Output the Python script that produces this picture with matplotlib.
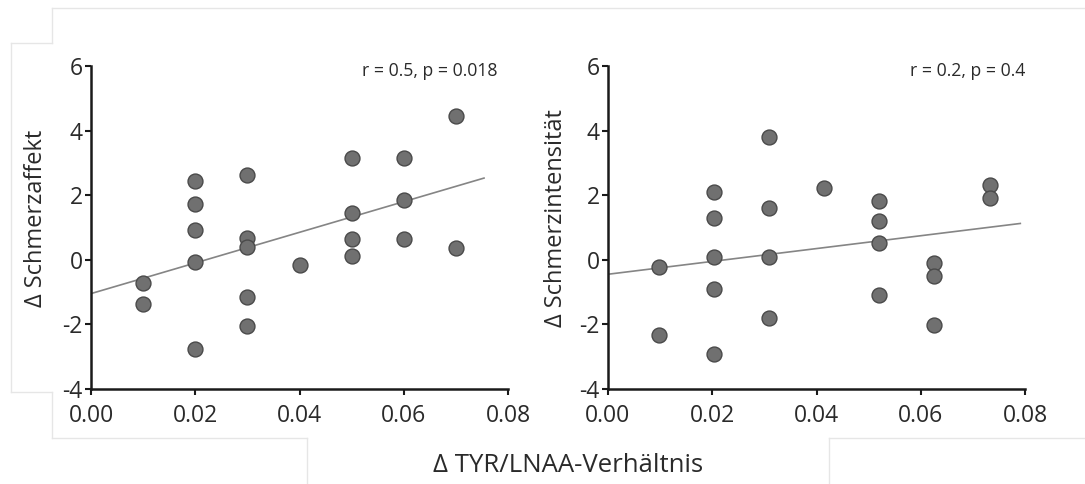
import numpy as np
import matplotlib.pyplot as plt
from matplotlib.lines import Line2D

plt.rcParams['font.family'] = ['Open Sans', 'DejaVu Sans']
plt.rcParams['axes.unicode_minus'] = False

# Daten links: Schmerzaffekt
x_affekt = [0.01, 0.01,
            0.02, 0.02, 0.02, 0.02, 0.02,
            0.03, 0.03, 0.03, 0.03, 0.03,
            0.04,
            0.05, 0.05, 0.05, 0.05,
            0.06, 0.06, 0.06,
            0.07, 0.07]
y_affekt = [-0.72, -1.36,
            2.44, 1.74, 0.93, -0.07, -2.76,
            2.63, 0.66, 0.41, -1.15, -2.06,
            -0.17,
            3.16, 1.44, 0.65, 0.13,
            3.16, 1.85, 0.64,
            4.45, 0.35]

# Daten rechts: Schmerzintensitaet
x_intens = [0.0098, 0.0098,
            0.0203, 0.0203, 0.0203, 0.0203, 0.0203,
            0.0309, 0.0309, 0.0309, 0.0309,
            0.0414,
            0.052, 0.052, 0.052, 0.052,
            0.0626, 0.0626, 0.0626,
            0.0732, 0.0732]
y_intens = [-0.21, -2.32,
            2.10, 1.30, 0.09, -0.91, -2.93,
            3.80, 1.61, 0.10, -1.81,
            2.21,
            1.81, 1.20, 0.51, -1.10,
            -0.10, -0.49, -2.01,
            2.31, 1.91]

panels = [
    (x_affekt, y_affekt, 'Δ Schmerzaffekt', 'r = 0.5, p = 0.018', 0.0754),
    (x_intens, y_intens, 'Δ Schmerzintensität', 'r = 0.2, p = 0.4', 0.0791),
]
xticks = [0.00, 0.02, 0.04, 0.06, 0.08]
yticks = [-4, -2, 0, 2, 4, 6]

fig = plt.figure(figsize=(10.85, 4.84), dpi=100)

# blasse Rahmenlinien aus dem Original-Screenshot
grau = '#e6e6e6'
for xs, ys in [([52, 1085], [8, 8]), ([52, 52], [8, 43]), ([11, 52], [43, 43]),
               ([11, 11], [43, 392]), ([11, 52], [392, 392]), ([52, 52], [392, 438]),
               ([52, 307], [438, 438]), ([307, 307], [438, 484]),
               ([829, 1085], [438, 438]), ([829, 829], [438, 484])]:
    fig.add_artist(Line2D([v / 1085 for v in xs], [1 - v / 484 for v in ys],
                          color=grau, lw=1))

lefts = [91 / 1085, 608 / 1085]
stat_x = [0.974, 1.0]
label_x = [-0.103, -0.096]
for (xv, yv, ylabel, stat, xend), left, sx, lx in zip(panels, lefts, stat_x, label_x):
    ax = fig.add_axes([left, 1 - 389 / 484, 417 / 1085, 323 / 484])
    ax.scatter(xv, yv, s=115, color='#707070', edgecolor='#4a4a4a',
               linewidth=1.0, zorder=3)
    slope, intercept = np.polyfit(xv, yv, 1)
    xl = np.array([0, xend])
    ax.plot(xl, intercept + slope * xl, color='#858585', lw=1.2, zorder=2)

    ax.set_xlim(0, 0.08)
    ax.set_ylim(-4, 6)
    ax.set_xticks(xticks)
    ax.set_xticklabels(['%.2f' % t for t in xticks])
    ax.set_yticks(yticks)
    ax.set_yticklabels([str(t) for t in yticks])
    for s in ['top', 'right']:
        ax.spines[s].set_visible(False)
    for s in ['left', 'bottom']:
        ax.spines[s].set_linewidth(1.8)
        ax.spines[s].set_color('#1a1a1a')
    ax.tick_params(direction='out', length=4, width=1.5, color='#1a1a1a',
                   labelsize=16.5, labelcolor='#2a2a2a', pad=2)
    ax.tick_params(axis='x', pad=7)
    ax.set_ylabel(ylabel, fontsize=17, color='#2a2a2a')
    ax.yaxis.set_label_coords(lx, 0.529)
    ax.text(sx, 0.985, stat, transform=ax.transAxes, ha='right', va='center',
            fontsize=12.7, color='#2a2a2a')
    ax.patch.set_alpha(0)

fig.text(568 / 1085, 1 - 466 / 484, 'Δ TYR/LNAA-Verhältnis', ha='center',
         va='center', fontsize=18.5, color='#2a2a2a')

fig.savefig('out.png', dpi=100)
